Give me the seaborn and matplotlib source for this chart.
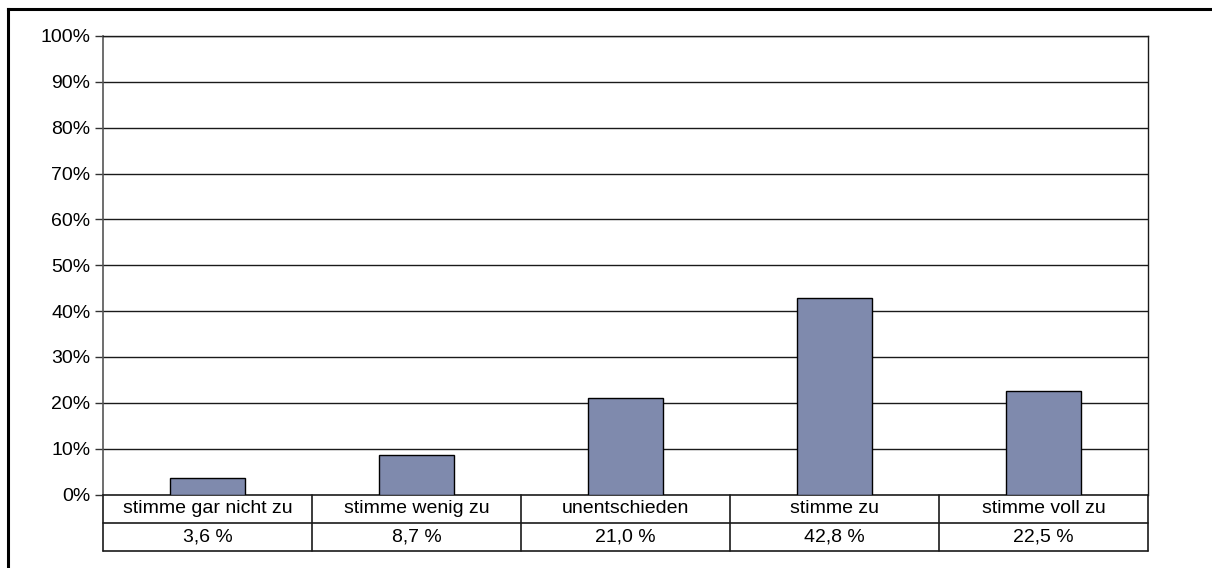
import matplotlib
matplotlib.use("Agg")
import matplotlib.pyplot as plt
import matplotlib.transforms as mtransforms
from matplotlib.lines import Line2D
import seaborn as sns
import pandas as pd

categories = ["stimme gar nicht zu", "stimme wenig zu", "unentschieden", "stimme zu", "stimme voll zu"]
values = [3.6, 8.7, 21.0, 42.8, 22.5]
value_labels = ["3,6 %", "8,7 %", "21,0 %", "42,8 %", "22,5 %"]
yticks = [0, 10, 20, 30, 40, 50, 60, 70, 80, 90, 100]

sns.set_theme(style="white")
plt.rcParams["font.family"] = ["Liberation Sans", "DejaVu Sans"]

W, H, DPI = 1212, 568, 100
FS = 14
fig = plt.figure(figsize=(W / DPI, H / DPI), dpi=DPI)
fig.patch.set_facecolor("white")

left, right, top, bottom = 103, 1148, 36, 494.5
ax = fig.add_axes([left / W, 1 - bottom / H, (right - left) / W, (bottom - top) / H])

df = pd.DataFrame({"cat": categories, "val": values})
sns.barplot(data=df, x="cat", y="val", color="#7f8aad", saturation=1,
            width=0.36, edgecolor="black", linewidth=1.0, ax=ax, zorder=3)

ax.set_xlim(-0.5, len(categories) - 0.5)
ax.set_ylim(0, 100)
ax.set_yticks(yticks)
ax.set_yticklabels([f"{t}%" for t in yticks], fontsize=FS, color="black")
ax.set_xticks([])
ax.set_xlabel("")
ax.set_ylabel("")
ax.tick_params(axis="y", length=6, width=1, color="#333333", pad=3, left=True)

# horizontal gridlines
for t in yticks[1:]:
    ax.axhline(t, color="#1a1a1a", linewidth=1.0, zorder=1)

for side in ["top", "right"]:
    ax.spines[side].set_visible(True)
    ax.spines[side].set_color("#1a1a1a")
    ax.spines[side].set_linewidth(1.0)
ax.spines["left"].set_color("#555555")
ax.spines["left"].set_linewidth(1.2)
ax.spines["bottom"].set_color("#1a1a1a")
ax.spines["bottom"].set_linewidth(1.2)

# data table beneath the axis (x in data units, y in pixel offset)
row_h = 28.3
trans = mtransforms.blended_transform_factory(ax.transData, ax.transAxes)
px = (bottom - top)  # axes height in pixels
def yoff(p):
    return -p / px

n = len(categories)
for r in range(1, 3):
    ax.add_line(Line2D([-0.5, n - 0.5], [yoff(r * row_h)] * 2, transform=trans,
                       color="#1a1a1a", linewidth=1.2, clip_on=False))
for i in range(n + 1):
    ax.add_line(Line2D([i - 0.5, i - 0.5], [0, yoff(2 * row_h)], transform=trans,
                       color="#1a1a1a", linewidth=1.2, clip_on=False))
for i, (c, v) in enumerate(zip(categories, value_labels)):
    ax.text(i, yoff(row_h * 0.5), c, transform=trans, ha="center", va="center",
            fontsize=FS, color="black", clip_on=False)
    ax.text(i, yoff(row_h * 1.5), v, transform=trans, ha="center", va="center",
            fontsize=FS, color="black", clip_on=False)

# outer chart frame
fig.add_artist(Line2D([8 / W, 1.0], [1 - 9 / H, 1 - 9 / H], transform=fig.transFigure,
                      color="black", linewidth=2.2, solid_capstyle="projecting"))
fig.add_artist(Line2D([8 / W, 8 / W], [1 - 9 / H, 0.0], transform=fig.transFigure,
                      color="black", linewidth=2.2, solid_capstyle="projecting"))

fig.savefig("out.png", dpi=DPI, facecolor="white")
